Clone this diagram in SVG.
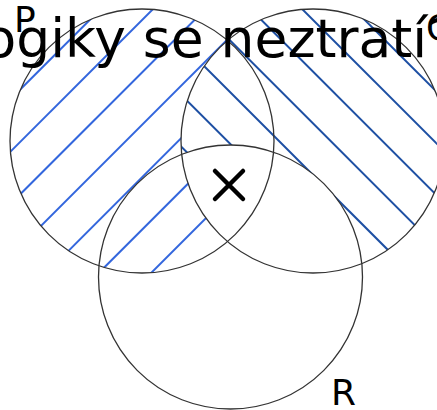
<svg xmlns="http://www.w3.org/2000/svg" width="437" height="410" viewBox="0 0 437 410">
<style>
.circ{fill:none;stroke:#333;stroke-width:1.3}
.hp{stroke:#3366dd;stroke-width:2}
.hq{stroke:#1d4fa3;stroke-width:2}
.lbl{font-family:"DejaVu Sans",sans-serif;font-size:36px;fill:#000}
.title{font-family:"DejaVu Sans",sans-serif;font-size:53.5px;fill:#000}
.mark{stroke:#000;stroke-width:4.5;stroke-linecap:round;fill:none}
</style>
<defs>
<mask id="mP" maskUnits="userSpaceOnUse" x="0" y="0" width="437" height="410">
<rect width="437" height="410" fill="#000"/>
<circle cx="142" cy="141" r="132" fill="#fff"/>
<circle cx="313" cy="141" r="132" fill="#000"/>
</mask>
<mask id="mQ" maskUnits="userSpaceOnUse" x="0" y="0" width="437" height="410">
<rect width="437" height="410" fill="#000"/>
<circle cx="313" cy="141" r="132" fill="#fff"/>
<circle cx="230.5" cy="277" r="132" fill="#000"/>
</mask>
</defs>
<rect width="437" height="410" fill="#fff"/>
<g id="hatch-P" class="hp" mask="url(#mP)">
<line x1="0" y1="109.7" x2="437" y2="-327.3"/>
<line x1="0" y1="162.1" x2="437" y2="-274.9"/>
<line x1="0" y1="214.5" x2="437" y2="-222.5"/>
<line x1="0" y1="266.9" x2="437" y2="-170.1"/>
<line x1="0" y1="319.3" x2="437" y2="-117.7"/>
<line x1="0" y1="371.7" x2="437" y2="-65.3"/>
<line x1="0" y1="424.1" x2="437" y2="-12.9"/>
</g>
<g id="hatch-Q" class="hq" mask="url(#mQ)">
<line x1="0" y1="-344.8" x2="800" y2="455.2"/>
<line x1="0" y1="-293.1" x2="800" y2="506.9"/>
<line x1="0" y1="-241.4" x2="800" y2="558.6"/>
<line x1="0" y1="-189.7" x2="800" y2="610.3"/>
<line x1="0" y1="-138" x2="800" y2="662"/>
<line x1="0" y1="-86.3" x2="800" y2="713.7"/>
<line x1="0" y1="-34.6" x2="800" y2="765.4"/>
</g>
<g id="set-P"><circle class="circ" cx="142" cy="141" r="132"/><text class="lbl" x="14" y="32">P</text></g>
<g id="set-Q"><circle class="circ" cx="313" cy="141" r="132"/><text class="lbl" x="426" y="40">Q</text></g>
<g id="set-R"><circle class="circ" cx="230.5" cy="277" r="132"/><text class="lbl" x="331" y="405">R</text></g>
<g id="element-x"><path class="mark" d="M215,171 L243,199 M243,171 L215,199"/></g>
<g id="title"><text class="title" x="-16.5" y="57">ogiky se neztratí?</text></g>
</svg>
